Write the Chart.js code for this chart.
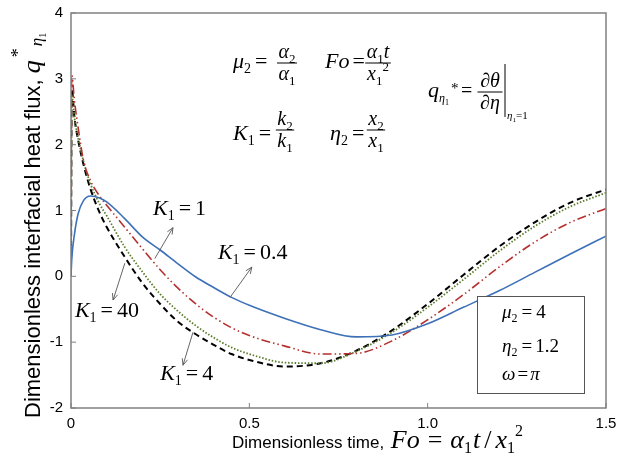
<!DOCTYPE html>
<html>
<head>
<meta charset="utf-8">
<script src="https://cdn.jsdelivr.net/npm/chart.js@4"></script>
<style>
  body { margin: 0; background: #fff; }
  canvas { display: block; }
</style>
</head>
<body>
<canvas id="flux" width="617" height="466"></canvas>
<script>
// Fo values shared by all curves
const foValues = [0, 0.002, 0.01, 0.02, 0.035, 0.055, 0.08, 0.1, 0.15, 0.2, 0.25, 0.3, 0.35, 0.4, 0.45, 0.5, 0.6, 0.7, 0.8, 0.9, 1.0, 1.1, 1.2, 1.3, 1.4, 1.5];
// q* for each K1
const qK04 = [0, 0.25, 0.65, 0.95, 1.15, 1.22, 1.19, 1.13, 0.88, 0.6, 0.4, 0.19, -0.01, -0.17, -0.32, -0.44, -0.64, -0.81, -0.92, -0.89, -0.72, -0.47, -0.22, 0.06, 0.34, 0.61];
const qK1 = [0, 3.05, 2.65, 2.26, 1.76, 1.45, 1.22, 1.08, 0.75, 0.42, 0.1, -0.18, -0.42, -0.62, -0.78, -0.9, -1.06, -1.18, -1.17, -0.98, -0.66, -0.28, 0.14, 0.52, 0.82, 1.03];
const qK4 = [0, 2.85, 2.4, 2.07, 1.7, 1.32, 0.97, 0.75, 0.3, -0.1, -0.42, -0.69, -0.88, -1.04, -1.18, -1.27, -1.37, -1.32, -1.13, -0.82, -0.42, 0.02, 0.45, 0.82, 1.12, 1.32];
const qK40 = [0, 2.75, 2.4, 2.1, 1.75, 1.4, 1.1, 0.92, 0.45, 0.07, -0.27, -0.53, -0.75, -0.93, -1.08, -1.18, -1.31, -1.32, -1.14, -0.85, -0.47, -0.05, 0.38, 0.76, 1.06, 1.27];
const xTickValues = [0, 0.5, 1, 1.5];
const yTickValues = [-2, -1, 0, 1, 2, 3, 4];

const SERIF = '"Liberation Serif", "Times New Roman", serif';
const SANS = '"Liberation Sans", Arial, sans-serif';

function pts(ys) {
  return foValues.map((x, i) => ({x: x, y: ys[i]}));
}

// --- little helpers for the math text ---
function put(ctx, x, y, text, size, italic) {
  ctx.font = (italic ? 'italic ' : '') + size + 'px ' + SERIF;
  ctx.textAlign = 'left';
  ctx.textBaseline = 'alphabetic';
  ctx.fillText(text, x, y);
  return x + ctx.measureText(text).width;
}
// pieces: [text, size, italic, dy, gapAfter]
function row(ctx, x, y, pieces) {
  for (const p of pieces) {
    x = put(ctx, x, y + (p[3] || 0), p[0], p[1], p[2]);
    x += p[4] || 0;
  }
  return x;
}
function rowWidth(ctx, pieces) {
  let w = 0;
  for (const p of pieces) {
    ctx.font = (p[2] ? 'italic ' : '') + p[1] + 'px ' + SERIF;
    w += ctx.measureText(p[0]).width + (p[4] || 0);
  }
  return w;
}
function frac(ctx, cx, barY, num, den, barW) {
  const wn = rowWidth(ctx, num), wd = rowWidth(ctx, den);
  const w = barW || Math.max(wn, wd) + 3;
  row(ctx, cx - wn / 2, barY - 5, num);
  row(ctx, cx - wd / 2, barY + 17, den);
  ctx.beginPath();
  ctx.moveTo(cx - w / 2, barY);
  ctx.lineTo(cx + w / 2, barY);
  ctx.lineWidth = 1;
  ctx.strokeStyle = '#000';
  ctx.stroke();
}
function arrow(ctx, x1, y1, x2, y2) {
  ctx.strokeStyle = '#555';
  ctx.lineWidth = 0.9;
  ctx.beginPath();
  ctx.moveTo(x1, y1);
  ctx.lineTo(x2, y2);
  const a = Math.atan2(y2 - y1, x2 - x1);
  ctx.moveTo(x2 - 7 * Math.cos(a - 0.4), y2 - 7 * Math.sin(a - 0.4));
  ctx.lineTo(x2, y2);
  ctx.lineTo(x2 - 7 * Math.cos(a + 0.4), y2 - 7 * Math.sin(a + 0.4));
  ctx.stroke();
}
function kLabel(ctx, x, y, val) {
  row(ctx, x, y, [['K', 22, true], ['1', 14, false, 5, 4], ['=', 22, false, 0, 4], [val, 22, false]]);
}

// curve labels: [Fo, q] of text start, arrow from, arrow to
const curveLabels = [
  {text: '1',   at: [0.230, 0.93],  from: [0.235, 0.27],  to: [0.286, 0.74]},
  {text: '0.4', at: [0.412, 0.27],  from: [0.446, -0.32], to: [0.507, 0.14]},
  {text: '40',  at: [0.011, -0.62], from: [0.151, 0.20],  to: [0.118, -0.36]},
  {text: '4',   at: [0.250, -1.58], from: [0.342, -0.85], to: [0.314, -1.35]}
];

const decorPlugin = {
  id: 'decor',
  afterDraw(chart) {
    const ctx = chart.ctx;
    const a = chart.chartArea;
    const sx = chart.scales.x, sy = chart.scales.y;
    ctx.save();

    // frame + inward ticks
    ctx.strokeStyle = '#808080';
    ctx.lineWidth = 1.5;
    ctx.strokeRect(a.left, a.top, a.right - a.left, a.bottom - a.top);
    ctx.beginPath();
    yTickValues.forEach(v => {
      const y = sy.getPixelForValue(v);
      ctx.moveTo(a.left, y);
      ctx.lineTo(a.left + 5, y);
    });
    xTickValues.forEach(v => {
      const x = sx.getPixelForValue(v);
      ctx.moveTo(x, a.bottom);
      ctx.lineTo(x, a.bottom - 5);
    });
    ctx.lineWidth = 1;
    ctx.stroke();

    ctx.fillStyle = '#000';
    // K1 labels and arrows
    curveLabels.forEach(l => {
      kLabel(ctx, sx.getPixelForValue(l.at[0]), sy.getPixelForValue(l.at[1]), l.text);
      arrow(ctx, sx.getPixelForValue(l.from[0]), sy.getPixelForValue(l.from[1]),
        sx.getPixelForValue(l.to[0]), sy.getPixelForValue(l.to[1]));
    });
    ctx.fillStyle = '#000';

    // definitions at the top
    row(ctx, 233, 68, [['μ', 22, true], ['2', 14, false, 5, 4], ['=', 22, false]]);
    frac(ctx, 287, 63, [['α', 20, true], ['2', 13, false, 5]], [['α', 20, true], ['1', 13, false, 5]]);
    row(ctx, 325, 68, [['Fo', 22, true, 0, 3], ['=', 22, false]]);
    frac(ctx, 378, 63, [['α', 20, true], ['1', 13, false, 5], ['t', 20, true]], [['x', 20, true], ['1', 13, false, 5], ['2', 13, false, -9]]);
    row(ctx, 233, 140, [['K', 22, true], ['1', 14, false, 5, 4], ['=', 22, false]]);
    frac(ctx, 285, 130, [['k', 20, true], ['2', 13, false, 5]], [['k', 20, true], ['1', 13, false, 5]]);
    row(ctx, 330, 140, [['η', 22, true], ['2', 14, false, 5, 4], ['=', 22, false]]);
    frac(ctx, 376, 130, [['x', 20, true], ['2', 13, false, 5]], [['x', 20, true], ['1', 13, false, 5]]);

    // q* definition
    row(ctx, 428, 97, [['q', 22, true], ['η', 12, true, 5], ['1', 8, false, 8]]);
    put(ctx, 451, 93, '*', 15, false);
    put(ctx, 461, 97, '=', 20, false);
    frac(ctx, 490, 92, [['∂θ', 20, true]], [['∂η', 20, true]], 25);
    ctx.beginPath();
    ctx.moveTo(505, 64);
    ctx.lineTo(505, 117);
    ctx.lineWidth = 1;
    ctx.stroke();
    row(ctx, 507, 119, [['η', 11, true], ['1', 7, false, 3], ['=1', 11, false]]);

    // parameter box
    ctx.fillStyle = '#fff';
    ctx.fillRect(477, 296, 107, 97);
    ctx.strokeStyle = '#555';
    ctx.lineWidth = 1;
    ctx.strokeRect(477.5, 296.5, 107, 97);
    ctx.fillStyle = '#000';
    row(ctx, 502, 318, [['μ', 19, true], ['2', 12, false, 4, 4], ['=', 19, false, 0, 4], ['4', 19, false]]);
    row(ctx, 502, 352, [['η', 19, true], ['2', 12, false, 4, 4], ['=', 19, false, 0, 3], ['1.2', 19, false]]);
    row(ctx, 502, 380, [['ω', 19, true, 0, 2], ['=', 19, false, 0, 2], ['π', 19, true]]);

    // x axis title
    ctx.font = '17px ' + SANS;
    ctx.textAlign = 'left';
    ctx.fillText('Dimensionless time, ', 232, 448);
    let xx = 232 + ctx.measureText('Dimensionless time, ').width + 2;
    row(ctx, xx, 448, [['Fo', 26, true, 0, 8], ['=', 26, false, 0, 8], ['α', 26, true], ['1', 16, false, 5, 1], ['t', 26, true, 0, 4], ['/', 26, false, 0, 4], ['x', 26, true], ['1', 16, false, 5], ['2', 16, false, -12]]);

    // y axis title (rotated)
    ctx.translate(40, 418);
    ctx.rotate(-Math.PI / 2);
    ctx.font = '22px ' + SANS;
    ctx.fillText('Dimensionless interfacial heat flux, ', 0, 0);
    let yx = ctx.measureText('Dimensionless interfacial heat flux, ').width;
    row(ctx, yx, 0, [['q', 26, true, 0, 3], ['*', 18, false, -16, 2], ['η', 17, true, 2], ['1', 10, false, 6]]);

    ctx.restore();
  }
};

new Chart(document.getElementById('flux').getContext('2d'), {
  type: 'scatter',
  data: {
    datasets: [
      {label: 'K1 = 0.4', data: pts(qK04), borderColor: '#3e70b8', borderWidth: 1.6},
      {label: 'K1 = 1', data: pts(qK1), borderColor: '#b4312f', borderWidth: 1.6, borderDash: [9, 3, 1.5, 3, 1.5, 3]},
      {label: 'K1 = 40', data: pts(qK40), borderColor: '#5c7d2c', borderWidth: 1.8, borderDash: [1.5, 1.8]},
      {label: 'K1 = 4', data: pts(qK4), borderColor: '#000', borderWidth: 2, borderDash: [6, 4]}
    ]
  },
  options: {
    responsive: false,
    animation: false,
    showLine: true,
    layout: {padding: {left: 0, top: 13, right: 11, bottom: 0}},
    elements: {
      point: {radius: 0},
      line: {cubicInterpolationMode: 'monotone', fill: false}
    },
    plugins: {legend: {display: false}, tooltip: {enabled: false}},
    scales: {
      x: {
        type: 'linear', min: 0, max: 1.5,
        afterBuildTicks: s => { s.ticks = xTickValues.map(v => ({value: v})); },
        afterFit: s => { s.height = 58; s.paddingLeft = 0; s.paddingRight = 0; },
        ticks: {font: {family: SANS, size: 15}, color: '#000', padding: 7, maxRotation: 0},
        grid: {display: true, drawOnChartArea: false, drawTicks: false},
        border: {display: false}
      },
      y: {
        type: 'linear', min: -2, max: 4,
        afterBuildTicks: s => { s.ticks = yTickValues.map(v => ({value: v})); },
        afterFit: s => { s.width = 71; s.paddingTop = 0; s.paddingBottom = 0; },
        ticks: {font: {family: SANS, size: 15}, color: '#000', padding: 8},
        grid: {display: true, drawOnChartArea: false, drawTicks: false},
        border: {display: false}
      }
    }
  },
  plugins: [decorPlugin]
});
</script>
</body>
</html>
